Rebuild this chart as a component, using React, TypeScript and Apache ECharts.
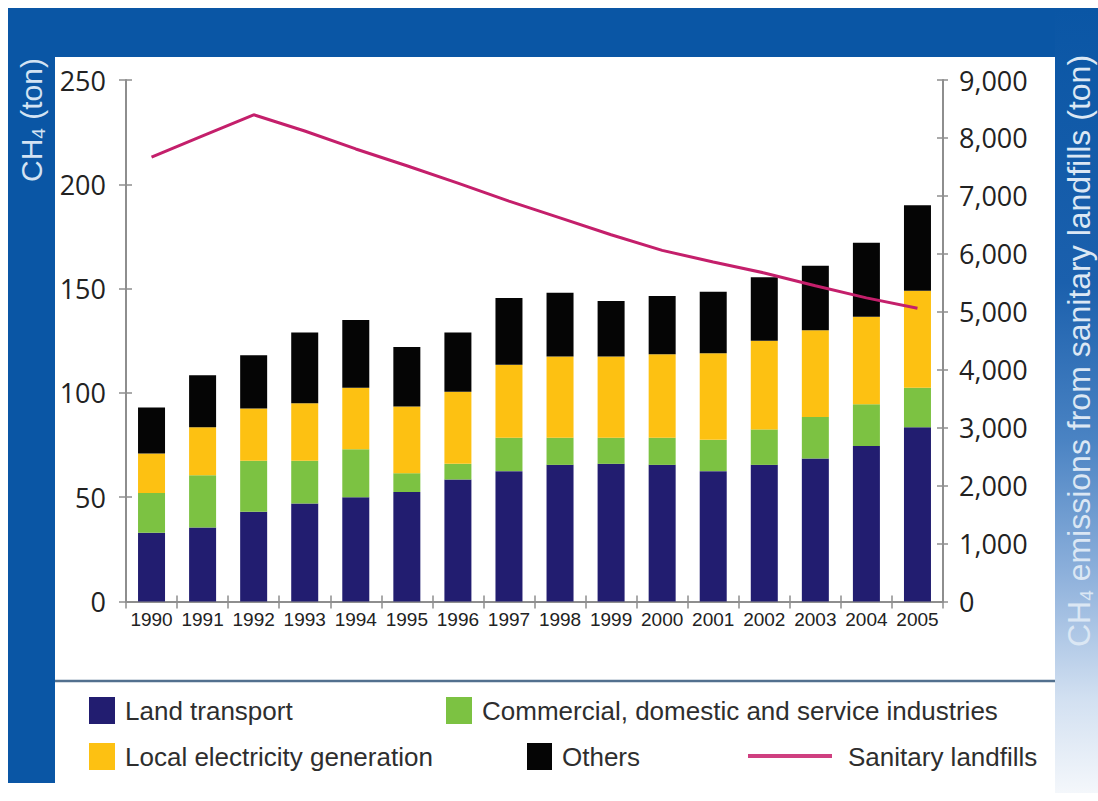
import React, { useEffect, useRef } from "react";
import * as echarts from "echarts";

const years = ["1990", "1991", "1992", "1993", "1994", "1995", "1996", "1997", "1998", "1999", "2000", "2001", "2002", "2003", "2004", "2005"];
const landTransport = [33, 35.5, 43, 47, 50, 52.5, 58.5, 62.5, 65.5, 66, 65.5, 62.5, 65.5, 68.5, 74.5, 83.5];
const commercial = [19, 25, 24.5, 20.5, 23, 9, 7.5, 16, 13, 12.5, 13, 15, 17, 20, 20, 19];
const electricity = [19, 23, 25, 27.5, 29.5, 32, 34.5, 35, 39, 39, 40, 41.5, 42.5, 41.5, 42, 46.5];
const others = [22, 25, 25.5, 34, 32.5, 28.5, 28.5, 32, 30.5, 26.5, 28, 29.5, 30.5, 31, 35.5, 41];
const landfills = [7670, 8035, 8400, 8120, 7810, 7520, 7220, 6910, 6620, 6330, 6060, 5860, 5670, 5450, 5240, 5060];

const leftMin = 0, leftMax = 250, leftStep = 50;
const rightMin = 0, rightMax = 9000, rightStep = 1000;

const NAVY = "#221d70";
const GREEN = "#7cc242";
const YELLOW = "#fdc112";
const BLACK = "#050505";
const PINK = "#c41f6b";
const BLUE = "#0a56a5";
const AXIS = "#8e8e8e";

const fmt = (v: number) => String(v).replace(/\B(?=(\d{3})+(?!\d))/g, ",");

export default function App() {
  const ref = useRef<HTMLDivElement>(null);
  useEffect(() => {
    const chart = echarts.init(ref.current!, null, { renderer: "svg" });
    const tickStyle = { color: AXIS, width: 1.5 };
    const legendFont = { fontSize: 26, fontFamily: "Liberation Sans, Arial, sans-serif", fill: "#2e2e2e" };
    const option: any = {
      animation: false,
      backgroundColor: "#ffffff",
      grid: { left: 126, right: 155, top: 80, bottom: 199.5, containLabel: false },
      xAxis: [
        {
          type: "category",
          data: years,
          position: "bottom",
          axisLine: { show: true, lineStyle: { color: AXIS, width: 2 } },
          axisTick: { show: true, interval: 0, length: 7, lineStyle: tickStyle },
          axisLabel: { interval: 0, fontSize: 19, fontFamily: "Liberation Sans, Arial, sans-serif", color: "#222", margin: 8 },
        },
        {
          type: "category",
          data: years,
          position: "bottom",
          axisLine: { show: false },
          axisTick: { show: true, interval: 0, inside: true, length: 6, lineStyle: tickStyle },
          axisLabel: { show: false },
        },
      ],
      yAxis: [
        {
          type: "value",
          min: leftMin,
          max: leftMax,
          interval: leftStep,
          position: "left",
          axisLine: { show: true, lineStyle: { color: AXIS, width: 2 } },
          axisTick: { show: true, length: 7, lineStyle: tickStyle },
          splitLine: { show: false },
          axisLabel: { fontSize: 27, fontFamily: "Open Sans, sans-serif", color: "#222", margin: 20 },
        },
        {
          type: "value",
          min: rightMin,
          max: rightMax,
          interval: rightStep,
          position: "right",
          axisLine: { show: true, lineStyle: { color: AXIS, width: 2 } },
          axisTick: { show: true, length: 5, lineStyle: tickStyle },
          splitLine: { show: false },
          axisLabel: { fontSize: 27, fontFamily: "Open Sans, sans-serif", color: "#222", margin: 16, formatter: fmt },
        },
        {
          type: "value",
          min: leftMin,
          max: leftMax,
          interval: leftStep,
          position: "left",
          axisLine: { show: false },
          axisTick: { show: true, inside: true, length: 6, lineStyle: tickStyle },
          splitLine: { show: false },
          axisLabel: { show: false },
        },
        {
          type: "value",
          min: rightMin,
          max: rightMax,
          interval: rightStep,
          position: "right",
          axisLine: { show: false },
          axisTick: { show: true, inside: true, length: 6, lineStyle: tickStyle },
          splitLine: { show: false },
          axisLabel: { show: false },
        },
      ],
      series: [
        { name: "Land transport", type: "bar", stack: "total", barWidth: 27, data: landTransport, itemStyle: { color: NAVY } },
        { name: "Commercial, domestic and service industries", type: "bar", stack: "total", barWidth: 27, data: commercial, itemStyle: { color: GREEN } },
        { name: "Local electricity generation", type: "bar", stack: "total", barWidth: 27, data: electricity, itemStyle: { color: YELLOW } },
        { name: "Others", type: "bar", stack: "total", barWidth: 27, data: others, itemStyle: { color: BLACK } },
        {
          name: "Sanitary landfills",
          type: "line",
          yAxisIndex: 1,
          data: landfills,
          symbol: "none",
          z: 10,
          lineStyle: { color: PINK, width: 3 },
        },
      ],
      graphic: [
        { type: "rect", z: -1, shape: { x: 8, y: 8, width: 1090, height: 49 }, style: { fill: BLUE } },
        { type: "rect", z: -1, shape: { x: 8, y: 8, width: 47, height: 775 }, style: { fill: BLUE } },
        {
          type: "rect",
          z: -1,
          shape: { x: 1055, y: 8, width: 43, height: 785 },
          style: {
            fill: {
              type: "linear", x: 0, y: 0, x2: 0, y2: 1,
              colorStops: [
                { offset: 0, color: BLUE },
                { offset: 0.35, color: "#1b60ad" },
                { offset: 0.55, color: "#4a83c3" },
                { offset: 0.72, color: "#8db0db" },
                { offset: 0.88, color: "#d2e0f1" },
                { offset: 1, color: "#f4f7fb" },
              ],
            },
          },
        },
        { type: "line", shape: { x1: 55, y1: 681, x2: 1055, y2: 681 }, style: { stroke: "#52708e", lineWidth: 2.5 } },
        {
          type: "text",
          x: 31,
          y: 120,
          rotation: Math.PI / 2,
          style: {
            text: "{a|CH}{s|4}{a| (ton)}",
            align: "center",
            verticalAlign: "middle",
            rich: {
              a: { fontSize: 30, fontFamily: "Liberation Sans, Arial, sans-serif", fill: "#d3e3f3" },
              s: { fontSize: 19, fontFamily: "Liberation Sans, Arial, sans-serif", fill: "#d3e3f3", padding: [14, 0, 0, 0] },
            },
          },
        },
        {
          type: "text",
          x: 1079,
          y: 351,
          rotation: Math.PI / 2,
          style: {
            text: "{a|CH}{s|4}{a| emissions from sanitary landfills (ton)}",
            align: "center",
            verticalAlign: "middle",
            rich: {
              a: { fontSize: 32, fontFamily: "Liberation Sans, Arial, sans-serif", fill: "#dbe7f4" },
              s: { fontSize: 19, fontFamily: "Liberation Sans, Arial, sans-serif", fill: "#dbe7f4", padding: [14, 0, 0, 0] },
            },
          },
        },
        { type: "rect", shape: { x: 89, y: 697, width: 26, height: 27 }, style: { fill: NAVY } },
        { type: "text", x: 125, y: 711, style: { ...legendFont, text: "Land transport", verticalAlign: "middle" } },
        { type: "rect", shape: { x: 446, y: 697, width: 26, height: 27 }, style: { fill: GREEN } },
        { type: "text", x: 482, y: 711, style: { ...legendFont, text: "Commercial, domestic and service industries", verticalAlign: "middle" } },
        { type: "rect", shape: { x: 89, y: 743, width: 26, height: 27 }, style: { fill: YELLOW } },
        { type: "text", x: 125, y: 757, style: { ...legendFont, text: "Local electricity generation", verticalAlign: "middle" } },
        { type: "rect", shape: { x: 527, y: 743, width: 25, height: 27 }, style: { fill: BLACK } },
        { type: "text", x: 562, y: 757, style: { ...legendFont, text: "Others", verticalAlign: "middle" } },
        { type: "line", shape: { x1: 748, y1: 756, x2: 832, y2: 756 }, style: { stroke: "#cf3f80", lineWidth: 4 } },
        { type: "text", x: 848, y: 757, style: { ...legendFont, text: "Sanitary landfills", verticalAlign: "middle" } },
      ],
    };
    chart.setOption(option);
    return () => chart.dispose();
  }, []);
  return (
    <div
      ref={ref}
      style={{ position: "absolute", left: 0, top: 0, width: 1098, height: 801, background: "#fff" }}
    />
  );
}
